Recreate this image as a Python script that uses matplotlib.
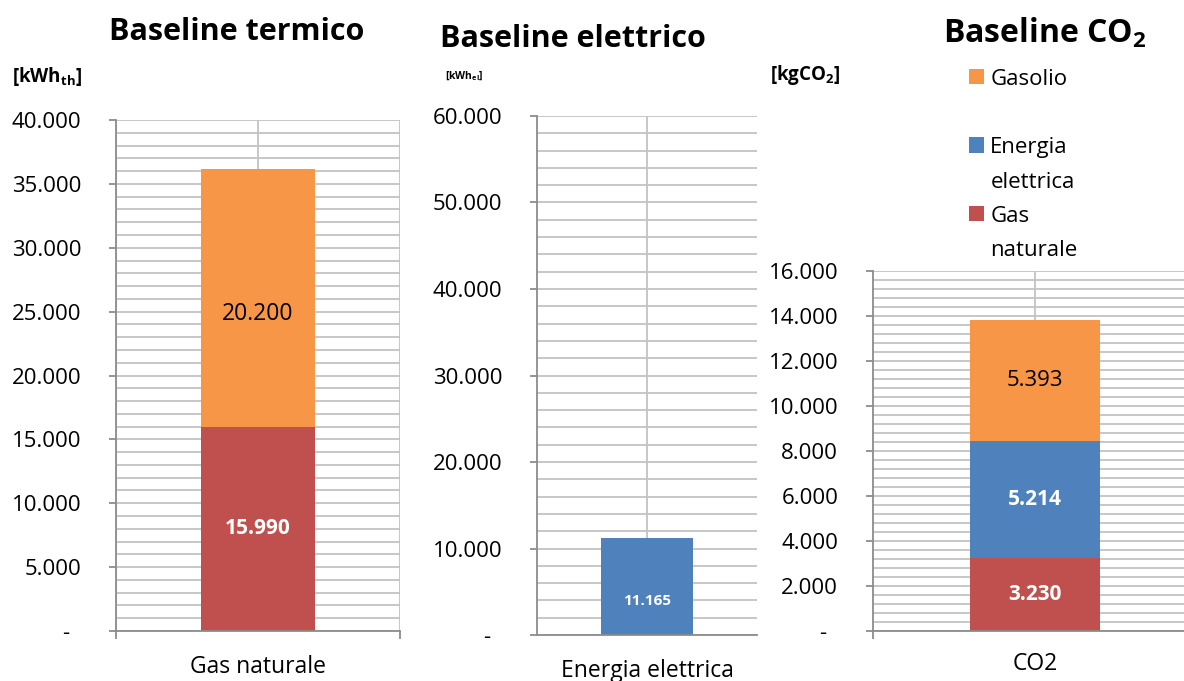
import matplotlib.pyplot as plt
from matplotlib.ticker import MultipleLocator, FuncFormatter, FixedLocator

plt.rcParams['font.family'] = ['Open Sans', 'DejaVu Sans']
plt.rcParams['mathtext.fontset'] = 'custom'
plt.rcParams['mathtext.rm'] = 'Open Sans'
plt.rcParams['mathtext.bf'] = 'Open Sans:bold'

# Consumi e emissioni di baseline
termico_cat = ["Gas naturale"]
termico_gas = [15990]
termico_gasolio = [20200]

elettrico_cat = ["Energia elettrica"]
elettrico_val = [11165]

co2_cat = ["CO2"]
co2_gas = [3230]
co2_elettrica = [5214]
co2_gasolio = [5393]

ARANCIO = "#F79646"
ROSSO = "#C0504D"
BLU = "#4F81BD"
GRIGLIA = "#C3C3C3"
ASSE = "#8C8C8C"


def migliaia(v, pos=None):
    if abs(v) < 0.5:
        return "-  "
    return f"{v:,.0f}".replace(",", ".")


def stile(ax, ymax, major, minor, tick_pad, right_line=False):
    ax.set_ylim(0, ymax)
    ax.set_xlim(-0.5, 0.5)
    ax.yaxis.set_major_locator(MultipleLocator(major))
    ax.yaxis.set_minor_locator(MultipleLocator(minor))
    ax.yaxis.set_major_formatter(FuncFormatter(migliaia))
    ax.xaxis.set_major_locator(FixedLocator([0]))
    ax.xaxis.set_minor_locator(FixedLocator([-0.5, 0.5]))
    ax.grid(True, which='both', axis='y', color=GRIGLIA, lw=1.3)
    ax.grid(True, which='major', axis='x', color=GRIGLIA, lw=1.3)
    if right_line:
        ax.grid(True, which='minor', axis='x', color=GRIGLIA, lw=1.3)
    ax.set_axisbelow(True)
    for s in ['top', 'right']:
        ax.spines[s].set_visible(False)
    for s in ['left', 'bottom']:
        ax.spines[s].set_color(ASSE)
        ax.spines[s].set_linewidth(1.3)
    ax.tick_params(axis='y', which='major', length=5, width=1.3, color=ASSE,
                   labelsize=16, pad=20)
    ax.tick_params(axis='y', which='minor', length=0)
    ax.tick_params(axis='x', which='major', length=0, labelsize=16.5, pad=tick_pad)
    ax.tick_params(axis='x', which='minor', length=6, width=1.3, color=ASSE)


fig = plt.figure(figsize=(11.84, 6.81), dpi=100)

# Baseline termico
ax1 = fig.add_axes([0.098, 0.0734, 0.2399, 0.7504])
b_gas = ax1.bar(termico_cat, termico_gas, width=0.40, color=ROSSO)
b_gso = ax1.bar(termico_cat, termico_gasolio, width=0.40, bottom=termico_gas, color=ARANCIO)
stile(ax1, 40000, 5000, 1000, 17, right_line=True)
ax1.bar_label(b_gas, labels=[migliaia(v) for v in termico_gas], label_type='center',
              color='white', fontweight='bold', fontsize=15)
ax1.bar_label(b_gso, labels=[migliaia(v) for v in termico_gasolio], label_type='center',
              color='black', fontsize=16.5, padding=-12)

# Baseline elettrico
ax2 = fig.add_axes([0.4535, 0.0675, 0.1858, 0.7622])
b_el = ax2.bar(elettrico_cat, elettrico_val, width=0.42, color=BLU)
stile(ax2, 60000, 10000, 2000, 17)
ax2.tick_params(axis='x', which='minor', length=0)
ax2.bar_label(b_el, labels=[migliaia(v) for v in elettrico_val], label_type='center',
              color='white', fontweight='bold', fontsize=11, padding=-10)

# Baseline CO2
ax3 = fig.add_axes([0.7373, 0.0734, 0.2736, 0.5286])
c_gas = ax3.bar(co2_cat, co2_gas, width=0.40, color=ROSSO, label="Gas\nnaturale")
c_el = ax3.bar(co2_cat, co2_elettrica, width=0.40, bottom=co2_gas, color=BLU,
               label="Energia\nelettrica")
base_gso = [a + b for a, b in zip(co2_gas, co2_elettrica)]
c_gso = ax3.bar(co2_cat, co2_gasolio, width=0.40, bottom=base_gso, color=ARANCIO,
                label="Gasolio\n")
stile(ax3, 16000, 2000, 400, 15)
ax3.bar_label(c_gas, labels=[migliaia(v) for v in co2_gas], label_type='center',
              color='white', fontweight='bold', fontsize=15)
ax3.bar_label(c_el, labels=[migliaia(v) for v in co2_elettrica], label_type='center',
              color='white', fontweight='bold', fontsize=15)
ax3.bar_label(c_gso, labels=[migliaia(v) for v in co2_gasolio], label_type='center',
              color='black', fontsize=16)

leg = fig.legend([c_gso, c_el, c_gas], ["Gasolio\n", "Energia\nelettrica", "Gas\nnaturale"],
                 loc='upper left', bbox_to_anchor=(0.818, 0.8987), frameon=False,
                 fontsize=16, handlelength=0.68, handleheight=0.68, handletextpad=0.3,
                 labelspacing=0.6, borderpad=0, borderaxespad=0)
for t in leg.get_texts():
    t.set_linespacing(1.82)
for col in leg._legend_handle_box.get_children():
    for row in col.get_children():
        row.align = "top"

# Titoli e unità di misura
fig.text(237 / 1184, 1 - 32 / 681, "Baseline termico", fontsize=22, fontweight='bold',
         ha='center', va='center')
fig.text(573 / 1184, 1 - 39 / 681, "Baseline elettrico", fontsize=22, fontweight='bold',
         ha='center', va='center')
fig.text(1045 / 1184, 1 - 33 / 681, r"Baseline CO$_\mathbf{2}$", fontsize=23,
         fontweight='bold', ha='center', va='center')
fig.text(12 / 1184, 1 - 76 / 681, r"[kWh$_\mathbf{th}$]", fontsize=13.5, fontweight='bold',
         ha='left', va='center')
fig.text(445 / 1184, 1 - 76 / 681, r"[kWh$_\mathbf{el}$]", fontsize=7.5, fontweight='bold',
         ha='left', va='center')
fig.text(770 / 1184, 1 - 75 / 681, r"[kgCO$_\mathbf{2}$]", fontsize=13.5, fontweight='bold',
         ha='left', va='center')

fig.savefig("out.png", dpi=100)
